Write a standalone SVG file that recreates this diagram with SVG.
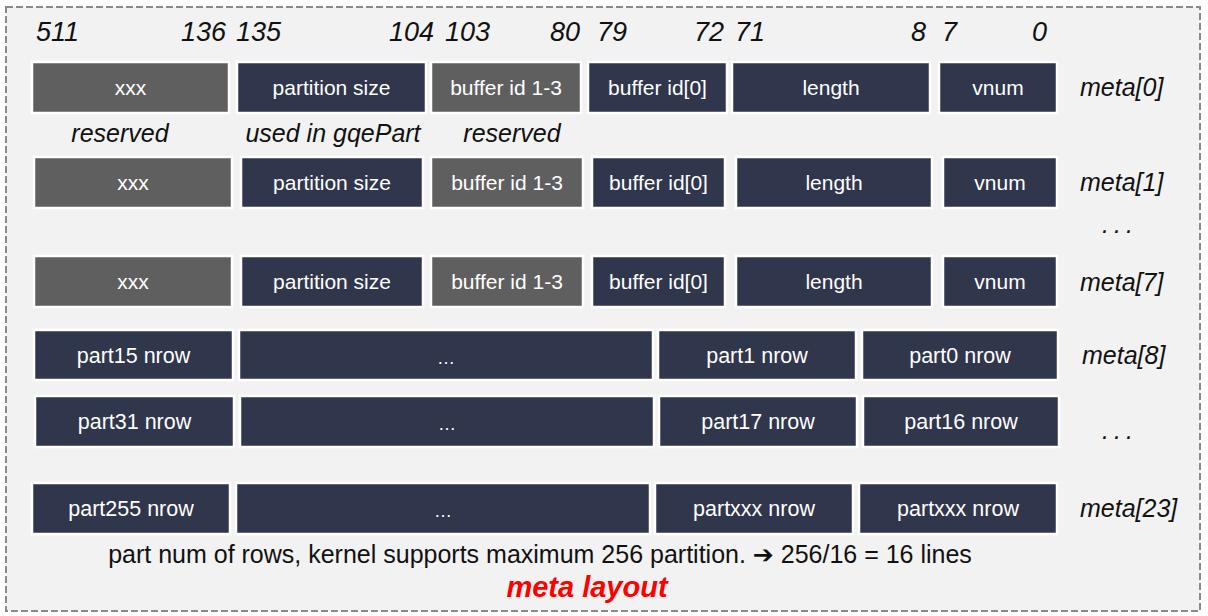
<svg xmlns="http://www.w3.org/2000/svg" width="1208" height="616" viewBox="0 0 1208 616">
<style>
.g{fill:#5f5f5f;stroke:#ffffff;stroke-width:2.5}
.n{fill:#30364c;stroke:#ffffff;stroke-width:2.5}
.t{font-family:"Liberation Sans",Arial,sans-serif;font-size:21px;fill:#ffffff;text-anchor:middle}
.tp{font-family:"Liberation Sans",Arial,sans-serif;font-size:21.5px;fill:#ffffff;text-anchor:middle}
.h{font-family:"Liberation Sans",Arial,sans-serif;font-size:27px;font-style:italic;fill:#111111}
.m{font-family:"Liberation Sans",Arial,sans-serif;font-size:25px;font-style:italic;fill:#111111}
.l{font-family:"Liberation Sans",Arial,sans-serif;font-size:25px;font-style:italic;fill:#111111;text-anchor:middle}
.e{font-family:"Liberation Sans",Arial,sans-serif;font-size:18px;fill:#ffffff;text-anchor:middle}
</style>
<rect x="6" y="7" width="1194" height="604" fill="#f2f2f2" stroke="#8a8a8a" stroke-width="2" stroke-dasharray="7 3"/>
<g id="header">
<text class="h" x="36" y="41">511</text>
<text class="h" x="226" y="41" text-anchor="end">136</text>
<text class="h" x="236" y="41">135</text>
<text class="h" x="434" y="41" text-anchor="end">104</text>
<text class="h" x="445" y="41">103</text>
<text class="h" x="580" y="41" text-anchor="end">80</text>
<text class="h" x="597" y="41">79</text>
<text class="h" x="724" y="41" text-anchor="end">72</text>
<text class="h" x="735" y="41">71</text>
<text class="h" x="926" y="41" text-anchor="end">8</text>
<text class="h" x="942" y="41">7</text>
<text class="h" x="1047" y="41" text-anchor="end">0</text>
</g>
<g id="meta0">
<rect class="g" x="32" y="62" width="197" height="51"/><text class="t" x="130.5" y="95">xxx</text>
<rect class="n" x="237" y="62" width="189" height="51"/><text class="t" x="331.5" y="95">partition size</text>
<rect class="g" x="431" y="62" width="150" height="51"/><text class="t" x="506" y="95">buffer id 1-3</text>
<rect class="n" x="588" y="62" width="139" height="51"/><text class="t" x="657.5" y="95">buffer id[0]</text>
<rect class="n" x="732" y="62" width="198" height="51"/><text class="t" x="831" y="95">length</text>
<rect class="n" x="939" y="62" width="118" height="51"/><text class="t" x="998" y="95">vnum</text>
<text class="m" x="1080" y="96">meta[0]</text>
</g>
<g id="annotations">
<text class="l" x="120" y="142">reserved</text>
<text class="l" x="333" y="142">used in gqePart</text>
<text class="l" x="512" y="142">reserved</text>
</g>
<g id="meta1">
<rect class="g" x="34" y="157" width="198" height="51"/><text class="t" x="133" y="190">xxx</text>
<rect class="n" x="241" y="157" width="182" height="51"/><text class="t" x="332" y="190">partition size</text>
<rect class="g" x="431" y="157" width="152" height="51"/><text class="t" x="507" y="190">buffer id 1-3</text>
<rect class="n" x="592" y="157" width="133" height="51"/><text class="t" x="658.5" y="190">buffer id[0]</text>
<rect class="n" x="736" y="157" width="196" height="51"/><text class="t" x="834" y="190">length</text>
<rect class="n" x="943" y="157" width="114" height="51"/><text class="t" x="1000" y="190">vnum</text>
<text class="m" x="1080" y="191">meta[1]</text>
</g>
<text class="m" x="1102" y="233" letter-spacing="5">...</text>
<g id="meta7">
<rect class="g" x="34" y="256" width="198" height="51"/><text class="t" x="133" y="289">xxx</text>
<rect class="n" x="241" y="256" width="182" height="51"/><text class="t" x="332" y="289">partition size</text>
<rect class="g" x="431" y="256" width="152" height="51"/><text class="t" x="507" y="289">buffer id 1-3</text>
<rect class="n" x="592" y="256" width="133" height="51"/><text class="t" x="658.5" y="289">buffer id[0]</text>
<rect class="n" x="736" y="256" width="196" height="51"/><text class="t" x="834" y="289">length</text>
<rect class="n" x="943" y="256" width="114" height="51"/><text class="t" x="1000" y="289">vnum</text>
<text class="m" x="1080" y="291">meta[7]</text>
</g>
<g id="meta8">
<rect class="n" x="34" y="330" width="199" height="50"/><text class="tp" x="133.5" y="363">part15 nrow</text>
<rect class="n" x="239" y="330" width="414" height="50"/><text class="e" x="446" y="364">…</text>
<rect class="n" x="658" y="330" width="198" height="50"/><text class="tp" x="757" y="363">part1 nrow</text>
<rect class="n" x="862" y="330" width="196" height="50"/><text class="tp" x="960" y="363">part0 nrow</text>
<text class="m" x="1082" y="364">meta[8]</text>
</g>
<g id="meta9">
<rect class="n" x="35" y="396" width="199" height="51"/><text class="tp" x="134.5" y="429">part31 nrow</text>
<rect class="n" x="240" y="396" width="414" height="51"/><text class="e" x="447" y="430">…</text>
<rect class="n" x="659" y="396" width="198" height="51"/><text class="tp" x="758" y="429">part17 nrow</text>
<rect class="n" x="863" y="396" width="196" height="51"/><text class="tp" x="961" y="429">part16 nrow</text>
</g>
<text class="m" x="1102" y="439" letter-spacing="5">...</text>
<g id="meta23">
<rect class="n" x="32" y="483" width="198" height="51"/><text class="tp" x="131" y="516">part255 nrow</text>
<rect class="n" x="236" y="483" width="414" height="51"/><text class="e" x="443" y="517">…</text>
<rect class="n" x="655" y="483" width="198" height="51"/><text class="tp" x="754" y="516">partxxx nrow</text>
<rect class="n" x="859" y="483" width="198" height="51"/><text class="tp" x="958" y="516">partxxx nrow</text>
<text class="m" x="1080" y="517">meta[23]</text>
</g>
<g id="caption">
<text x="540" y="563" font-family="'Liberation Sans',Arial,'DejaVu Sans',sans-serif" font-size="25" fill="#111111" text-anchor="middle">part num of rows, kernel supports maximum 256 partition. <tspan font-family="'DejaVu Sans',sans-serif" font-weight="bold">➔</tspan> 256/16 = 16 lines</text>
<text x="587" y="597" font-family="'Liberation Sans',Arial,sans-serif" font-size="29" font-weight="bold" font-style="italic" fill="#ff0000" text-anchor="middle">meta layout</text>
</g>
</svg>
